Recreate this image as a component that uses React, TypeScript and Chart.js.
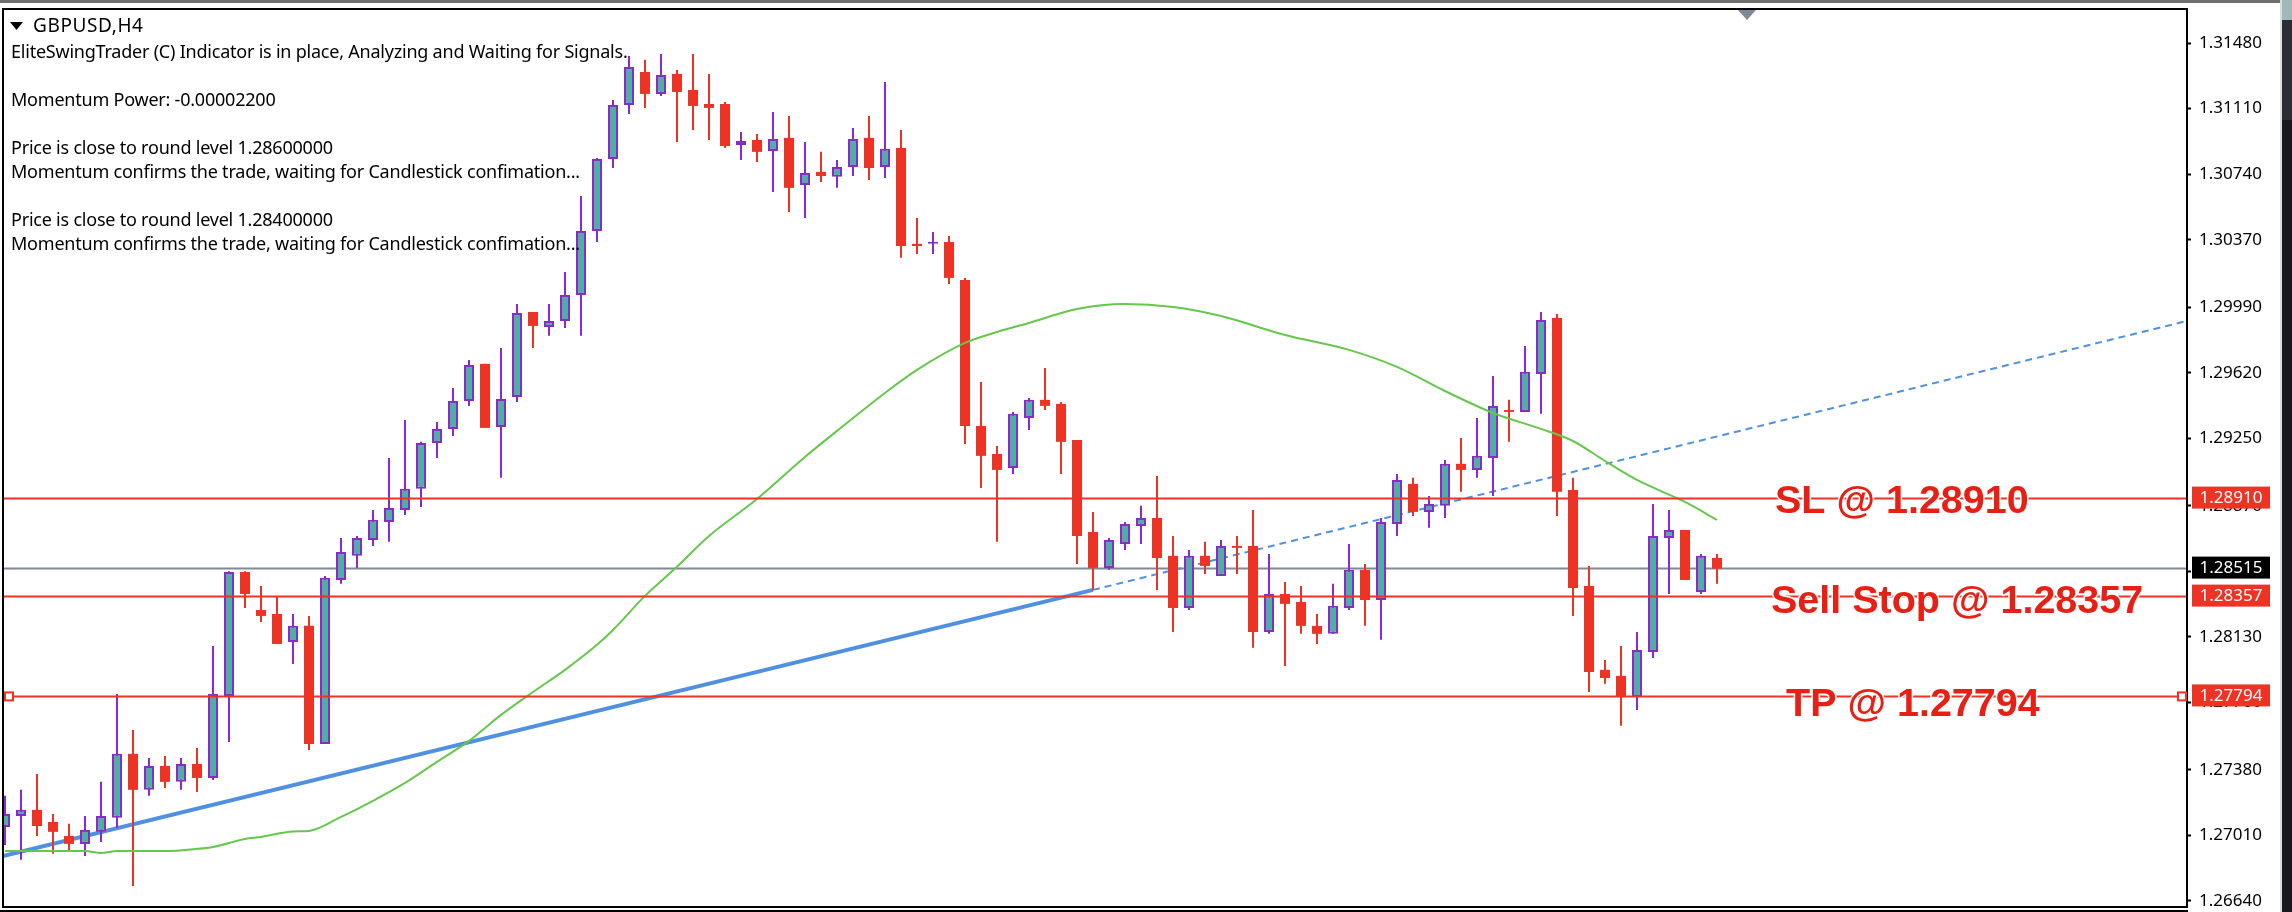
// App.tsx
import React, { useEffect, useRef } from "react";
import { Chart, registerables } from "chart.js";

Chart.register(...registerables);

const RED = "#ee3224";
const TEAL = "#54aca6";
const PURPLE = "#8a2bc9";
const GREEN = "#66c74c";
const BLUE = "#4f90e0";
const GREY = "#7f8a96";

const opens = [
  1.27058, 1.2712, 1.27154, 1.27086, 1.27007, 1.26962, 1.2703, 1.27109, 1.2747, 1.27267, 1.27402, 1.27312,
  1.27413, 1.27334, 1.27797, 1.28496, 1.28282, 1.28259, 1.28101, 1.28192, 1.27526, 1.28451, 1.28587, 1.28677,
  1.28778, 1.28846, 1.28965, 1.29224, 1.29303, 1.29461, 1.2967, 1.29314, 1.29483, 1.29963, 1.29878, 1.29912,
  1.30059, 1.3042, 1.30826, 1.31131, 1.31317, 1.31193, 1.31306, 1.31215, 1.31136, 1.31136, 1.30905, 1.30933,
  1.30871, 1.30945, 1.30679, 1.30753, 1.30725, 1.30781, 1.30945, 1.30781, 1.30888, 1.30347, 1.30347, 1.30358,
  1.30143, 1.2932, 1.29162, 1.29083, 1.29365, 1.29467, 1.29444, 1.29241, 1.28722, 1.28519, 1.28654, 1.28756,
  1.28801, 1.28587, 1.28293, 1.28587, 1.28474, 1.28643, 1.28643, 1.28158, 1.28372, 1.28327, 1.28192, 1.28147,
  1.28293, 1.28508, 1.28338, 1.28767, 1.28993, 1.28835, 1.28869, 1.29106, 1.29072, 1.29139, 1.2941, 1.29399,
  1.29613, 1.29929, 1.28959, 1.28417, 1.27944, 1.2791, 1.27791, 1.28045, 1.28688, 1.28733, 1.28383, 1.28575,
];

const closes = [
  1.27131, 1.27154, 1.27063, 1.2703, 1.26962, 1.27041, 1.2712, 1.2747, 1.27267, 1.27402, 1.27312, 1.27413,
  1.27334, 1.27808, 1.28496, 1.28372, 1.28248, 1.2809, 1.28192, 1.27526, 1.28463, 1.28609, 1.28688, 1.2879,
  1.28857, 1.28965, 1.29224, 1.29303, 1.29461, 1.29664, 1.29309, 1.29472, 1.29957, 1.29884, 1.29912, 1.30059,
  1.3042, 1.30826, 1.31131, 1.31345, 1.31193, 1.313, 1.31204, 1.31125, 1.31114, 1.30899, 1.30928, 1.30866,
  1.30939, 1.30663, 1.30747, 1.3073, 1.30781, 1.30939, 1.30775, 1.30883, 1.30335, 1.30335, 1.30358, 1.30155,
  1.2932, 1.29151, 1.29072, 1.29388, 1.29467, 1.29433, 1.2923, 1.28699, 1.28519, 1.28677, 1.28767, 1.28801,
  1.28575, 1.28293, 1.28587, 1.2853, 1.28643, 1.28632, 1.28158, 1.28372, 1.28316, 1.28192, 1.28147, 1.28305,
  1.28508, 1.28338, 1.28778, 1.29015, 1.28835, 1.2888, 1.29106, 1.29072, 1.29151, 1.29433, 1.29399, 1.29625,
  1.29918, 1.28948, 1.28406, 1.27932, 1.27898, 1.27791, 1.28056, 1.28699, 1.28733, 1.28451, 1.28587, 1.28515,
];

const highs = [
  1.27233, 1.27267, 1.27357, 1.27131, 1.27075, 1.2712, 1.27312, 1.27808, 1.27605, 1.27447, 1.27458, 1.27447,
  1.27503, 1.28079, 1.285, 1.285, 1.28417, 1.28355, 1.28259, 1.28248, 1.28474, 1.28688, 1.28699, 1.28846,
  1.29139, 1.29354, 1.2923, 1.29342, 1.29534, 1.29692, 1.2967, 1.2976, 1.30008, 1.29963, 1.30008, 1.30189,
  1.30617, 1.30832, 1.31159, 1.31407, 1.31385, 1.31418, 1.31328, 1.31418, 1.31306, 1.31148, 1.30978, 1.30967,
  1.31091, 1.31069, 1.30922, 1.30866, 1.3082, 1.31001, 1.31069, 1.3126, 1.3099, 1.30493, 1.30414, 1.30392,
  1.30155, 1.29568, 1.29207, 1.29399, 1.29478, 1.29647, 1.29455, 1.29241, 1.28835, 1.28688, 1.28778, 1.28869,
  1.29038, 1.28699, 1.2862, 1.28666, 1.28677, 1.28699, 1.28846, 1.28598, 1.2844, 1.28417, 1.28259, 1.28429,
  1.28654, 1.28541, 1.28801, 1.29049, 1.29027, 1.28925, 1.29128, 1.29252, 1.29365, 1.29602, 1.29467, 1.29771,
  1.29963, 1.29952, 1.29027, 1.2853, 1.28, 1.28079, 1.28158, 1.2888, 1.28846, 1.28733, 1.28598, 1.28598,
];

const lows = [
  1.26956, 1.26872, 1.27007, 1.26906, 1.26928, 1.26894, 1.26973, 1.27052, 1.26725, 1.27233, 1.27278, 1.27267,
  1.27255, 1.27323, 1.27537, 1.28293, 1.28214, 1.2809, 1.27977, 1.27492, 1.27526, 1.28429, 1.28519, 1.28643,
  1.28666, 1.28818, 1.28863, 1.29139, 1.29263, 1.29433, 1.29309, 1.29027, 1.29455, 1.2976, 1.29828, 1.29873,
  1.29828, 1.30358, 1.30775, 1.3108, 1.31114, 1.31181, 1.30922, 1.3099, 1.30933, 1.30888, 1.3082, 1.30809,
  1.3064, 1.30527, 1.30493, 1.30696, 1.30663, 1.3073, 1.30708, 1.30719, 1.30268, 1.3029, 1.3029, 1.30121,
  1.29218, 1.2897, 1.28666, 1.29049, 1.29297, 1.2941, 1.29049, 1.28541, 1.28395, 1.28508, 1.2862, 1.28654,
  1.28395, 1.28158, 1.28282, 1.28485, 1.28474, 1.28485, 1.28068, 1.28147, 1.27966, 1.28147, 1.2809, 1.28147,
  1.28282, 1.28192, 1.28113, 1.28699, 1.28812, 1.28745, 1.28801, 1.28948, 1.29027, 1.28925, 1.2923, 1.29399,
  1.29388, 1.28812, 1.28248, 1.27819, 1.27865, 1.27628, 1.27718, 1.28011, 1.28372, 1.28451, 1.28372, 1.28429,
];

// moving average at these bars
const maBars = [
  0, 5, 6, 7, 10, 12, 13, 15, 16, 18, 19, 21, 23, 25, 27, 29, 31, 33, 35, 37, 38, 40, 42, 44, 47, 50, 52, 55, 57,
  60, 62, 64, 67, 70, 73, 76, 80, 84, 87, 90, 93, 96, 98, 100, 102, 105, 107,
];
const maValues = [
  1.26922, 1.26922, 1.26911, 1.26922, 1.26922, 1.26934, 1.26945, 1.2699, 1.27001, 1.27032, 1.27035, 1.27114,
  1.27205, 1.27306, 1.27425, 1.27543, 1.2769, 1.27819, 1.27944, 1.28085, 1.28169, 1.28361, 1.28525, 1.28699,
  1.28908, 1.29145, 1.29292, 1.29506, 1.29636, 1.29788, 1.2985, 1.29901, 1.2998, 1.30008, 1.29991, 1.2994,
  1.29833, 1.29749, 1.29653, 1.29517, 1.29393, 1.29303, 1.29235, 1.29122, 1.29015, 1.28891, 1.2879,
];

const trendBars = [-0.125, 68, 136.375];
const trendValues = [1.26894, 1.28395, 1.29912];

const stopLoss = 1.2891;
const sellStop = 1.28357;
const takeProfit = 1.27794;
const bid = 1.28515;

const priceTicks = [
  1.3148, 1.3111, 1.3074, 1.3037, 1.2999, 1.2962, 1.2925, 1.2887, 1.285, 1.2813, 1.2776, 1.2738, 1.2701, 1.2664,
];

const infoLines: [string, number][] = [
  ["EliteSwingTrader (C) Indicator is in place, Analyzing and Waiting for Signals.", 58],
  ["Momentum Power: -0.00002200", 106],
  ["Price is close to round level 1.28600000", 154],
  ["Momentum confirms the trade, waiting for Candlestick confimation...", 178],
  ["Price is close to round level 1.28400000", 226],
  ["Momentum confirms the trade, waiting for Candlestick confimation...", 250],
];

const X_MIN = -0.125;
const X_MAX = 136.375;
const bars = opens.map((_, i) => i);
const isUp = bars.map((i) => closes[i] >= opens[i]);

const level = (value: number) => [
  { x: X_MIN, y: value },
  { x: X_MAX, y: value },
];

const levelDataset = (value: number, color: string, order: number) => ({
  type: "line" as const,
  data: level(value),
  borderColor: color,
  borderWidth: 2,
  pointRadius: 0,
  order,
});

const terminalPlugin = {
  id: "terminal",
  beforeDraw(chart: any) {
    const { ctx, width, height } = chart;
    ctx.save();
    ctx.fillStyle = "#ffffff";
    ctx.fillRect(0, 0, width, height);
    ctx.fillStyle = "#6f6f6f";
    ctx.fillRect(0, 0, 2280, 3);
    ctx.fillStyle = "#dcdcdc";
    ctx.fillRect(2280, 0, 2, height);
    ctx.fillStyle = "#17191e";
    ctx.fillRect(2282, 0, 10, height);
    ctx.fillStyle = "#2a2d33";
    ctx.fillRect(2282, 20, 10, 100);
    ctx.fillStyle = "#9fb8b8";
    ctx.fillRect(2282, 0, 10, 20);
    ctx.restore();
  },
  afterDraw(chart: any) {
    const { ctx, chartArea, scales } = chart;
    const y = (v: number) => scales.y.getPixelForValue(v);
    ctx.save();

    // frame
    ctx.strokeStyle = "#000000";
    ctx.lineWidth = 2;
    ctx.strokeRect(chartArea.left, chartArea.top, chartArea.right - chartArea.left, chartArea.bottom - chartArea.top);
    ctx.beginPath();
    ctx.moveTo(0, 911);
    ctx.lineTo(2188, 911);
    ctx.stroke();

    // shift marker and menu arrow
    ctx.fillStyle = GREY;
    ctx.beginPath();
    ctx.moveTo(1738, 10);
    ctx.lineTo(1756, 10);
    ctx.lineTo(1747, 20);
    ctx.fill();
    ctx.fillStyle = "#000000";
    ctx.beginPath();
    ctx.moveTo(10, 22);
    ctx.lineTo(23, 22);
    ctx.lineTo(16.5, 30);
    ctx.fill();

    // comment block
    ctx.textBaseline = "alphabetic";
    ctx.textAlign = "left";
    ctx.fillStyle = "#000000";
    ctx.font = '19px "Noto Sans"';
    ctx.letterSpacing = "0.6px";
    ctx.fillText("GBPUSD,H4", 33, 32);
    ctx.font = '18px "Noto Sans"';
    ctx.letterSpacing = "-0.22px";
    infoLines.forEach(([text, top]) => ctx.fillText(text, 11, top));
    ctx.letterSpacing = "0px";

    // price tags on the axis
    ctx.textAlign = "center";
    ctx.textBaseline = "middle";
    ctx.font = '17px "Noto Sans"';
    [stopLoss, bid, sellStop, takeProfit].forEach((price) => {
      const py = y(price);
      ctx.fillStyle = price === bid ? "#000000" : RED;
      ctx.fillRect(2192, py - 12, 78, 22);
      ctx.fillStyle = "#ffffff";
      ctx.fillText(price.toFixed(5), 2231, py);
    });

    // handles on the take profit line
    ctx.fillStyle = "#ffffff";
    ctx.strokeStyle = RED;
    ctx.lineWidth = 2;
    const tp = y(takeProfit);
    ctx.fillRect(5, tp - 4, 8, 8);
    ctx.strokeRect(5, tp - 4, 8, 8);
    ctx.fillRect(2178, tp - 4, 8, 8);
    ctx.strokeRect(2178, tp - 4, 8, 8);

    // order labels with a white halo that cuts the lines
    ctx.textAlign = "left";
    ctx.textBaseline = "alphabetic";
    ctx.font = 'bold 39.5px "Liberation Sans"';
    ctx.lineJoin = "round";
    ctx.lineWidth = 3;
    ctx.strokeStyle = "#ffffff";
    ctx.fillStyle = "#e81f14";
    const labels: [string, number, number][] = [
      ["SL @ 1.28910", 1775, 513],
      ["Sell Stop @ 1.28357", 1771, 613],
      ["TP @ 1.27794", 1786, 716],
    ];
    labels.forEach(([text, lx, ly]) => {
      ctx.strokeText(text, lx, ly);
      ctx.fillText(text, lx, ly);
    });
    ctx.restore();
  },
};

const App: React.FC = () => {
  const chartRef = useRef<HTMLCanvasElement | null>(null);

  useEffect(() => {
    if (!chartRef.current) return;

    const chart = new Chart(chartRef.current, {
      type: "bar",
      data: {
        datasets: [
          {
            type: "line",
            data: [
              { x: trendBars[1], y: trendValues[1] },
              { x: trendBars[2], y: trendValues[2] },
            ],
            borderColor: BLUE,
            borderWidth: 2,
            borderDash: [7, 5],
            pointRadius: 0,
            order: 9,
          },
          {
            type: "line",
            data: [
              { x: trendBars[0], y: trendValues[0] },
              { x: trendBars[1], y: trendValues[1] },
            ],
            borderColor: BLUE,
            borderWidth: 4,
            pointRadius: 0,
            order: 9,
          },
          levelDataset(bid, GREY, 10),
          {
            type: "bar",
            data: bars.map((i) => ({ x: i, y: [lows[i], highs[i]] })),
            backgroundColor: bars.map((i) => (isUp[i] ? PURPLE : RED)),
            borderWidth: 0,
            grouped: false,
            categoryPercentage: 1,
            barPercentage: 2 / 16,
            inflateAmount: 0,
            order: 6,
          },
          {
            type: "bar",
            data: bars.map((i) => ({ x: i, y: [opens[i], closes[i]] })),
            backgroundColor: bars.map((i) => (isUp[i] ? TEAL : RED)),
            borderColor: bars.map((i) => (isUp[i] ? PURPLE : RED)),
            borderWidth: bars.map((i) => (isUp[i] ? 2 : 0)),
            borderSkipped: false,
            grouped: false,
            categoryPercentage: 1,
            barPercentage: 10 / 16,
            inflateAmount: 0,
            order: 5,
          },
          {
            type: "line",
            data: maBars.map((b, i) => ({ x: b, y: maValues[i] })),
            borderColor: GREEN,
            borderWidth: 2,
            cubicInterpolationMode: "monotone",
            pointRadius: 0,
            order: 2,
          },
          levelDataset(stopLoss, RED, 1),
          levelDataset(sellStop, RED, 1),
          levelDataset(takeProfit, RED, 1),
        ] as any,
      },
      options: {
        responsive: false,
        animation: false,
        devicePixelRatio: 1,
        layout: { padding: { left: 3, top: 9, bottom: 5, right: 0 } },
        plugins: { legend: { display: false }, tooltip: { enabled: false } },
        scales: {
          x: {
            type: "linear",
            display: false,
            offset: false,
            min: X_MIN,
            max: X_MAX,
            grid: { display: false },
          },
          y: {
            position: "right",
            min: 1.26606,
            max: 1.31672,
            afterFit: (scale: any) => {
              scale.width = 105;
              // first and last labels must not push the plot area in
              scale.paddingTop = 0;
              scale.paddingBottom = 0;
            },
            afterBuildTicks: (scale: any) => {
              scale.ticks = priceTicks.map((value) => ({ value }));
            },
            grid: {
              drawOnChartArea: false,
              drawTicks: true,
              tickColor: "#000000",
              tickLength: 4,
              tickWidth: 2,
            },
            border: { display: true, color: "#000000", width: 2 },
            ticks: {
              autoSkip: false,
              padding: 8,
              color: "#000000",
              maxRotation: 0,
              font: { family: "Noto Sans", size: 17 },
              callback: (value: any) => Number(value).toFixed(5),
            },
          },
        },
      },
      plugins: [terminalPlugin],
    } as any);

    return () => {
      chart.destroy();
    };
  }, []);

  return (
    <div style={{ position: "absolute", left: 0, top: 0, width: 2292, height: 912 }}>
      <canvas ref={chartRef} width={2292} height={912} style={{ display: "block" }} />
    </div>
  );
};

export default App;
